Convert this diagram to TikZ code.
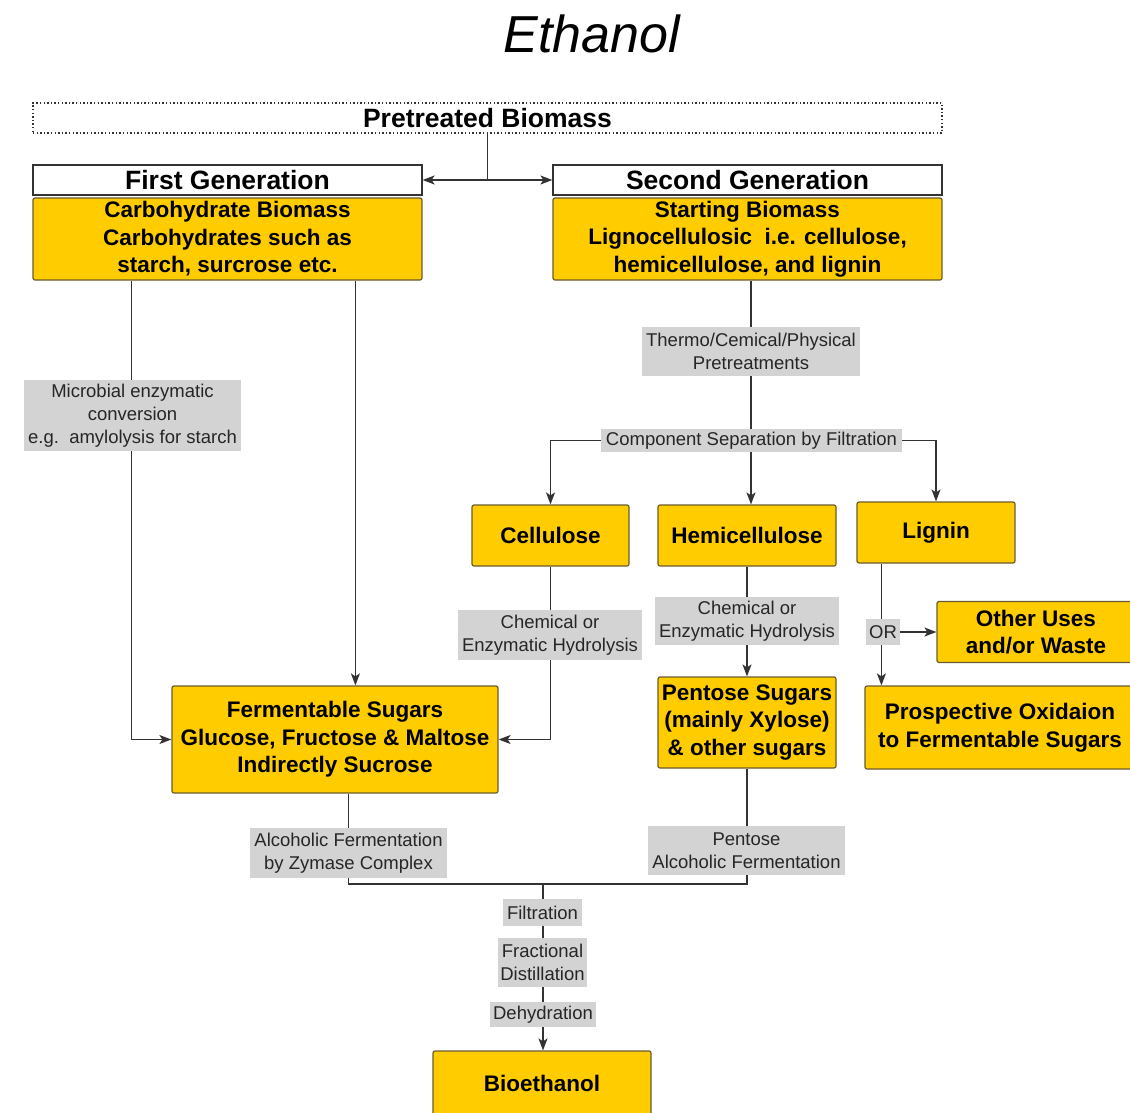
\documentclass[tikz,border=0pt]{standalone}
\usepackage{fontspec}
\setmainfont{Liberation Sans}
\usetikzlibrary{arrows.meta,calc}
\pgfdeclarelayer{bg}
\pgfdeclarelayer{back}
\pgfsetlayers{back,bg,main}
\definecolor{boxyellow}{HTML}{FFCC00}
\definecolor{boxedge}{HTML}{6B5B2E}
\definecolor{labgray}{HTML}{D3D3D3}
\definecolor{linec}{HTML}{333333}
\begin{document}
\begin{tikzpicture}[x=1pt,y=-1pt,
 ybox/.style={draw=boxedge, fill=boxyellow, line width=1.2pt, rounded corners=2pt, inner sep=0pt, align=center, font=\fontsize{22.5}{27.5}\selectfont\bfseries},
 hbox/.style={draw=linec, fill=white, line width=1.2pt, inner sep=0pt, align=center, font=\fontsize{26.5}{30}\selectfont\bfseries},
 lab/.style={fill=labgray, inner sep=0pt, align=center, text=black!85, font=\fontsize{18.5}{23}\selectfont},
 conn/.style={draw=linec, line width=1.5pt},
 arr/.style={conn, -{Stealth[length=12pt,width=9pt,inset=3pt]}},
]
\useasboundingbox (0,0) rectangle (1130,1112);
\clip (0,0) rectangle (1130,1112);
\begin{pgfonlayer}{back}
\fill[white] (0,0) rectangle (1130,1112);
\end{pgfonlayer}

% title
\node[font=\fontsize{52}{60}\selectfont\itshape] (title) at (592,34) {Ethanol};

% top
\node[draw=linec, line width=1.3pt, dash pattern=on 1.4pt off 2.2pt, minimum width=909pt, minimum height=30pt, inner sep=0pt, font=\fontsize{26.5}{30}\selectfont\bfseries] (pre) at (487.5,118) {Pretreated Biomass};
\node[hbox, minimum width=389pt, minimum height=30pt] (fgh) at (227.5,180) {First Generation};
\node[hbox, minimum width=389pt, minimum height=30pt] (sgh) at (747.5,180) {Second Generation};
\node[ybox, minimum width=389pt, minimum height=82pt] (fy) at (227.5,239) {Carbohydrate Biomass\\Carbohydrates such as\\starch, surcrose etc.};
\node[ybox, minimum width=389pt, minimum height=82pt] (sy) at (747.5,239) {Starting Biomass\\Lignocellulosic\ \ i.e. cellulose,\\hemicellulose, and lignin};

% middle boxes
\node[ybox, minimum width=157pt, minimum height=61pt] (cel) at (550.5,535.5) {Cellulose};
\node[ybox, minimum width=178pt, minimum height=61pt] (hem) at (747,535.5) {Hemicellulose};
\node[ybox, minimum width=158pt, minimum height=61pt] (lig) at (936,532.5) {Lignin};
\node[ybox, minimum width=326pt, minimum height=107pt] (ferm) at (335,739.5) {Fermentable Sugars\\Glucose, Fructose \& Maltose\\Indirectly Sucrose};
\node[ybox, minimum width=178pt, minimum height=91pt] (pent) at (747,722.5) {Pentose Sugars\\(mainly Xylose)\\\& other sugars};
\node[ybox, minimum width=198pt, minimum height=61pt] (oth) at (1036,632) {Other Uses\\and/or Waste};
\node[ybox, minimum width=270pt, minimum height=83pt] (pros) at (1000,727.5) {Prospective Oxidaion\\to Fermentable Sugars};
\node[ybox, minimum width=218pt, minimum height=64pt] (bio) at (542,1083) {Bioethanol};

% labels
\node[lab, minimum width=217pt, minimum height=71pt] (micro) at (132.5,415.5) {Microbial enzymatic\\conversion\\e.g.\ \ amylolysis for starch};
\node[lab, minimum width=218pt, minimum height=49pt] (thermo) at (751,351.5) {Thermo/Cemical/Physical\\Pretreatments};
\node[lab, minimum width=301pt, minimum height=23pt] (comp) at (751.5,440.5) {Component Separation by Filtration};
\node[lab, minimum width=184pt, minimum height=50pt] (chem1) at (550,635) {Chemical or\\Enzymatic Hydrolysis};
\node[lab, minimum width=184pt, minimum height=48pt] (chem2) at (747,621) {Chemical or\\Enzymatic Hydrolysis};
\node[lab, minimum width=34pt, minimum height=26pt] (or) at (883,632) {OR};
\node[lab, minimum width=197pt, minimum height=50pt] (alc1) at (348.5,853) {Alcoholic Fermentation\\by Zymase Complex};
\node[lab, minimum width=197pt, minimum height=49pt] (alc2) at (746.5,850.5) {Pentose\\Alcoholic Fermentation};
\node[lab, minimum width=79pt, minimum height=27pt] (filt) at (542.5,912.5) {Filtration};
\node[lab, minimum width=89pt, minimum height=49pt] (frac) at (542.5,962.5) {Fractional\\Distillation};
\node[lab, minimum width=106pt, minimum height=25pt] (dehy) at (543,1014.5) {Dehydration};

% helper coordinates
\coordinate (f1) at ([xshift=99pt]fy.south west);
\coordinate (f2) at ([xshift=323pt]fy.south west);
\coordinate (s0) at ([xshift=3.5pt]sy.south);
\coordinate (l0) at ([xshift=25pt]lig.south west);
\coordinate (m1) at ([xshift=177pt]ferm.south west);
\coordinate (j) at (543,884);

\begin{pgfonlayer}{bg}
\draw[conn] (pre.south) -- (pre.south |- fgh.east);
\draw[arr] (pre.south |- fgh.east) -- (fgh.east);
\draw[arr] (pre.south |- sgh.west) -- (sgh.west);
\draw[arr] (f1) |- (ferm.west);
\draw[arr] (f2) -- (f2 |- ferm.north);
\draw[conn] (s0) -- (s0 |- comp);
\draw[arr] (s0 |- comp) -| (cel.north);
\draw[arr] (s0 |- comp) -| (lig.north);
\draw[arr] (s0 |- comp) -- (s0 |- hem.north);
\draw[arr] (cel.south) |- (ferm.east);
\draw[arr] (hem.south) -- (pent.north);
\draw[arr] (l0) -- (l0 |- pros.north);
\draw[arr] (or.east) -- (or.east -| oth.west);
\draw[conn] (m1) |- (j);
\draw[conn] (pent.south) |- (j);
\draw[arr] (j) -- (j |- bio.north);
\end{pgfonlayer}
\end{tikzpicture}
\end{document}
